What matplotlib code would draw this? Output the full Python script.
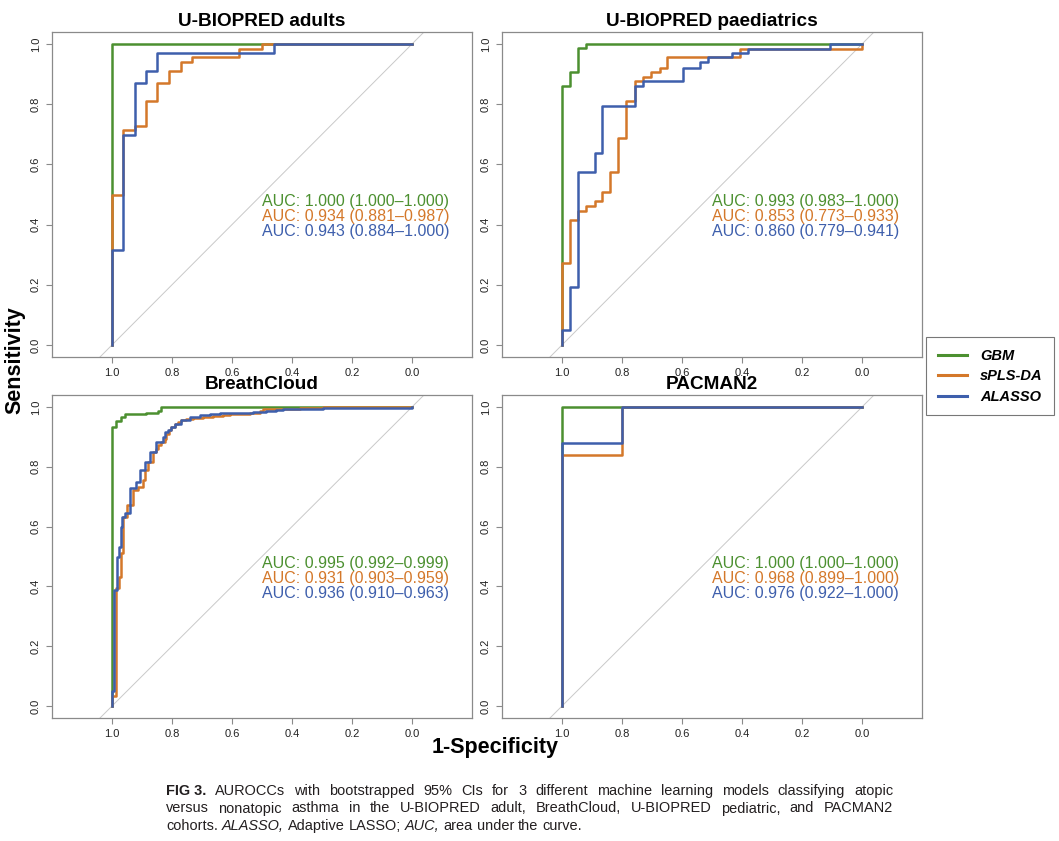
import matplotlib
matplotlib.use("Agg")
import matplotlib.pyplot as plt
import numpy as np

# ---------------- data ----------------
models = ["GBM", "sPLS-DA", "ALASSO"]
colors = ["#4c9030", "#d4782a", "#3e5fac"]

panel_titles = ["U-BIOPRED adults", "U-BIOPRED paediatrics", "BreathCloud", "PACMAN2"]

auc_labels = [
    ["AUC: 1.000 (1.000\u20131.000)", "AUC: 0.934 (0.881\u20130.987)", "AUC: 0.943 (0.884\u20131.000)"],
    ["AUC: 0.993 (0.983\u20131.000)", "AUC: 0.853 (0.773\u20130.933)", "AUC: 0.860 (0.779\u20130.941)"],
    ["AUC: 0.995 (0.992\u20130.999)", "AUC: 0.931 (0.903\u20130.959)", "AUC: 0.936 (0.910\u20130.963)"],
    ["AUC: 1.000 (1.000\u20131.000)", "AUC: 0.968 (0.899\u20131.000)", "AUC: 0.976 (0.922\u20131.000)"],
]

# U-BIOPRED adults
ua_gbm_spec = [1.0, 1.0, 0.0]
ua_gbm_sens = [0.0, 1.0, 1.0]
ua_spls_spec = [1.0, 1.0, 0.963, 0.924, 0.886, 0.849, 0.81, 0.771, 0.732, 0.577, 0.5, 0.0]
ua_spls_sens = [0.0, 0.5, 0.714, 0.726, 0.812, 0.87, 0.912, 0.94, 0.956, 0.983, 1.0, 1.0]
ua_alasso_spec = [1.0, 1.0, 0.963, 0.924, 0.886, 0.849, 0.461, 0.0]
ua_alasso_sens = [0.0, 0.314, 0.698, 0.87, 0.912, 0.97, 1.0, 1.0]

# U-BIOPRED paediatrics
up_gbm_spec = [1.0, 1.0, 0.974, 0.947, 0.919, 0.0]
up_gbm_sens = [0.0, 0.859, 0.907, 0.987, 1.0, 1.0]
up_spls_spec = [1.0, 1.0, 0.974, 0.947, 0.919, 0.891, 0.866, 0.839, 0.813, 0.786, 0.758,
                0.73, 0.702, 0.674, 0.649, 0.408, 0.0]
up_spls_sens = [0.0, 0.272, 0.414, 0.446, 0.463, 0.479, 0.509, 0.574, 0.687, 0.812, 0.876,
                0.89, 0.907, 0.922, 0.956, 0.984, 1.0]
up_alasso_spec = [1.0, 1.0, 0.974, 0.947, 0.891, 0.866, 0.758, 0.73, 0.597, 0.541, 0.513,
                  0.433, 0.38, 0.108, 0.0]
up_alasso_sens = [0.0, 0.05, 0.192, 0.574, 0.637, 0.794, 0.859, 0.876, 0.922, 0.939, 0.956,
                  0.97, 0.984, 1.0, 1.0]

# BreathCloud
bc_gbm_spec = [1.0, 1.0, 0.986, 0.969, 0.958, 0.886, 0.847, 0.836, 0.0]
bc_gbm_sens = [0.0, 0.933, 0.953, 0.967, 0.976, 0.981, 0.987, 1.0, 1.0]
bc_spls_spec = [1.0, 1.0, 0.986, 0.978, 0.971, 0.963, 0.95, 0.93, 0.913, 0.897, 0.891, 0.88,
                0.863, 0.854, 0.847, 0.836, 0.824, 0.819, 0.81, 0.802, 0.791, 0.78, 0.769,
                0.752, 0.73, 0.697, 0.663, 0.63, 0.608, 0.541, 0.508, 0.497, 0.43, 0.374,
                0.297, 0.0]
bc_spls_sens = [0.0, 0.033, 0.394, 0.433, 0.511, 0.633, 0.672, 0.722, 0.733, 0.756, 0.789,
                0.817, 0.85, 0.861, 0.872, 0.883, 0.894, 0.911, 0.922, 0.933, 0.944, 0.95,
                0.956, 0.959, 0.963, 0.967, 0.97, 0.974, 0.978, 0.981, 0.986, 0.992, 0.994,
                0.998, 1.0, 1.0]
bc_alasso_spec = [1.0, 1.0, 0.993, 0.982, 0.977, 0.971, 0.966, 0.958, 0.941, 0.921, 0.908,
                  0.891, 0.874, 0.854, 0.83, 0.824, 0.813, 0.802, 0.791, 0.769, 0.741, 0.708,
                  0.674, 0.641, 0.53, 0.486, 0.452, 0.43, 0.363, 0.297, 0.0]
bc_alasso_sens = [0.0, 0.05, 0.389, 0.5, 0.533, 0.6, 0.633, 0.644, 0.728, 0.75, 0.789,
                  0.817, 0.85, 0.883, 0.9, 0.917, 0.922, 0.933, 0.944, 0.958, 0.967, 0.972,
                  0.976, 0.981, 0.983, 0.987, 0.991, 0.993, 0.994, 0.998, 1.0]

# PACMAN2
pm_gbm_spec = [1.0, 1.0, 0.0]
pm_gbm_sens = [0.0, 1.0, 1.0]
pm_spls_spec = [1.0, 1.0, 0.8, 0.0]
pm_spls_sens = [0.0, 0.84, 1.0, 1.0]
pm_alasso_spec = [1.0, 1.0, 0.8, 0.0]
pm_alasso_sens = [0.0, 0.88, 1.0, 1.0]

panel_curves = [
    [(ua_gbm_spec, ua_gbm_sens), (ua_spls_spec, ua_spls_sens), (ua_alasso_spec, ua_alasso_sens)],
    [(up_gbm_spec, up_gbm_sens), (up_spls_spec, up_spls_sens), (up_alasso_spec, up_alasso_sens)],
    [(bc_gbm_spec, bc_gbm_sens), (bc_spls_spec, bc_spls_sens), (bc_alasso_spec, bc_alasso_sens)],
    [(pm_gbm_spec, pm_gbm_sens), (pm_spls_spec, pm_spls_sens), (pm_alasso_spec, pm_alasso_sens)],
]

tick_values = [1.0, 0.8, 0.6, 0.4, 0.2, 0.0]
tick_labels = ["1.0", "0.8", "0.6", "0.4", "0.2", "0.0"]

caption_line1 = "AUROCCs with bootstrapped 95% CIs for 3 different machine learning models classifying atopic"
caption_line2 = "versus nonatopic asthma in the U-BIOPRED adult, BreathCloud, U-BIOPRED pediatric, and PACMAN2"

# ---------------- figure ----------------
plt.rcParams["font.family"] = ["Liberation Sans", "DejaVu Sans"]
W, H = 1059, 841
fig = plt.figure(figsize=(W / 100, H / 100), dpi=100)
fig.patch.set_facecolor("white")

def fx(px):
    return px / W

def fy(py):
    return 1 - py / H

boxes = [(52, 32, 472, 357), (502, 32, 922, 357), (52, 395, 472, 718), (502, 395, 922, 718)]

spine_col = "#8a8a8a"
handles = []
for i, (l, t, r, b) in enumerate(boxes):
    ax = fig.add_axes([fx(l), fy(b), fx(r - l), (b - t) / H])
    ax.set_xlim(1.2, -0.2)
    ax.set_ylim(-0.04, 1.04)
    ax.axline((1, 0), (0, 1), color="#c9c9c9", lw=0.7, zorder=1)
    for j in range(3):
        sp, se = panel_curves[i][j]
        ln, = ax.plot(sp, se, drawstyle="steps-post", color=colors[j], lw=1.8, zorder=3 + j)
        if i == 0:
            handles.append(ln)
    for j in range(3):
        ax.text(0.5, 0.478 - j * 0.051, auc_labels[i][j], color=colors[j], fontsize=11.5,
                ha="left", va="center")
    ax.set_xticks(tick_values)
    ax.set_xticklabels(tick_labels)
    ax.set_yticks(tick_values[::-1])
    ax.set_yticklabels(tick_labels[::-1], rotation=90, va="center")
    ax.tick_params(axis="both", length=4, width=0.8, color=spine_col, labelsize=8,
                   labelcolor="#222222", pad=4)
    for s in ax.spines.values():
        s.set_color(spine_col)
        s.set_linewidth(0.9)
    ax.set_title(panel_titles[i], fontsize=13.7, fontweight="bold", pad=4)

fig.text(fx(15), fy(360), "Sensitivity", rotation=90, fontsize=15.5, fontweight="bold",
         ha="center", va="center")
fig.text(fx(495), fy(748), "1-Specificity", fontsize=15.5, fontweight="bold",
         ha="center", va="center")

leg = fig.legend(handles, models, loc="upper left",
                 bbox_to_anchor=(fx(926), fy(337)), borderaxespad=0,
                 frameon=True, fancybox=False, edgecolor="#555555",
                 prop={"weight": "bold", "style": "italic", "size": 10.5},
                 handlelength=2.0, handletextpad=0.9, borderpad=0.8, labelspacing=0.45)
leg.get_frame().set_linewidth(0.8)
for lh in leg.get_lines():
    lh.set_linewidth(2.2)

# ---------------- caption (justified) ----------------
cap_col = "#231f20"
renderer = fig.canvas.get_renderer()

def word_width(txt, size, **kw):
    t = fig.text(0, 0, txt, fontsize=size, **kw)
    w = t.get_window_extent(renderer).width
    t.remove()
    return w

line1_words = [("FIG 3.", "b")] + [(w, "n") for w in caption_line1.split()]
line2_words = [(w, "n") for w in caption_line2.split()]
line3_words = [("cohorts.", "n"), ("ALASSO,", "i"), ("Adaptive", "n"), ("LASSO;", "n"),
               ("AUC,", "i"), ("area", "n"), ("under", "n"), ("the", "n"), ("curve.", "n")]

def style_kw(st):
    if st == "b":
        return {"fontweight": "bold"}
    if st == "i":
        return {"fontstyle": "italic"}
    return {}

x_left, x_right = 166, 893
ref_size = 10.0
w1 = sum(word_width(w, ref_size, **style_kw(s)) for w, s in line1_words)
target = (x_right - x_left) - (len(line1_words) - 1) * 9.0
cap_size = float(np.clip(ref_size * target / w1, 8.5, 10.5))

space_w = word_width("x x", cap_size) - word_width("xx", cap_size)
baselines = [795, 812.5, 830]
for words, yb, justify in zip([line1_words, line2_words, line3_words], baselines,
                               [True, True, False]):
    widths = [word_width(w, cap_size, **style_kw(s)) for w, s in words]
    gap = (x_right - x_left - sum(widths)) / (len(words) - 1) if justify else space_w
    x = x_left
    for (w, s), wd in zip(words, widths):
        fig.text(fx(x), fy(yb), w, fontsize=cap_size, color=cap_col,
                 ha="left", va="baseline", **style_kw(s))
        x += wd + gap

fig.savefig("out.png", dpi=100, facecolor="white")
